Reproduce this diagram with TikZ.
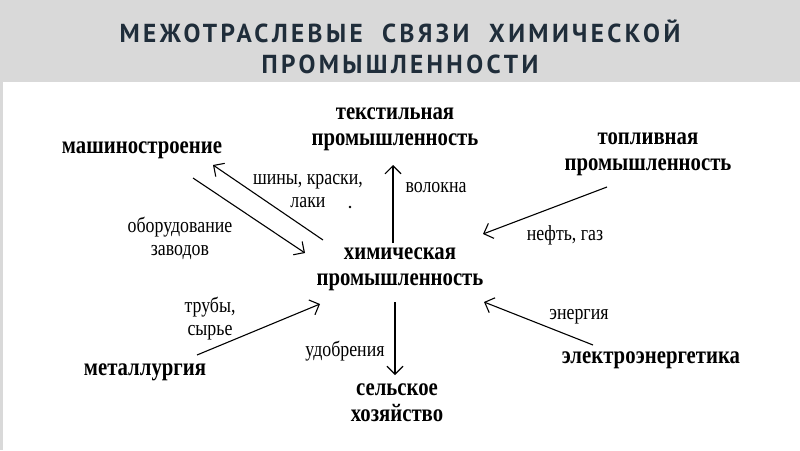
\documentclass[tikz,border=0pt]{standalone}
\usepackage{fontspec}
\setmainfont{Liberation Serif}
\newfontfamily\nodefont[FakeStretch=0.83]{Liberation Serif}
\newfontfamily\titlefont[FakeStretch=0.97,LetterSpace=13]{PT Sans}
\usetikzlibrary{arrows.meta}
\definecolor{band}{HTML}{D9D9D9}
\definecolor{titlecol}{HTML}{1F2D3A}
\begin{document}
\begin{tikzpicture}[x=1pt,y=-1pt,
 box/.style={font=\nodefont\fontsize{25}{26}\selectfont\bfseries, align=center, inner sep=0pt, anchor=base},
 lbl/.style={font=\nodefont\fontsize{21.5}{23}\selectfont, align=center, inner sep=0pt, anchor=base},
 arr/.style={-{Straight Barb[length=8pt,width=16pt]}, line width=1.1pt}]
\fill[band] (0,0) rectangle (800,450);
\fill[white] (3,82) rectangle (800,450);
\useasboundingbox (0,0) rectangle (800,450);
\node[font=\titlefont\fontsize{26}{30.5}\selectfont\bfseries, text=titlecol, align=center, inner sep=0pt, anchor=base] (title) at (400,73) {МЕЖОТРАСЛЕВЫЕ\ \ СВЯЗИ\ \ ХИМИЧЕСКОЙ\\ПРОМЫШЛЕННОСТИ};
% nodes (multi-line: base = last line)
\node[box] (tex) at (395,145) {текстильная\\промышленность};
\node[box] (mash) at (142,153) {машиностроение};
\node[box] (fuel) at (648,170) {топливная\\промышленность};
\node[box] (chem) at (400,285) {химическая\\промышленность};
\node[box] (met) at (145,375) {металлургия};
\node[box] (el) at (651,363) {электроэнергетика};
\node[box] (agr) at (397,421) {сельское\\хозяйство};
% arrow ends
\coordinate (texIn) at (393,165);
\coordinate (chemUp) at (393,243);
\coordinate (mashIn) at (213,165);
\coordinate (chemOutNW) at (323,240);
\coordinate (mashOut) at (193,178);
\coordinate (chemInNW) at (305,253);
\coordinate (fuelOut) at (607,187);
\coordinate (chemInNE) at (483,234);
\coordinate (metOut) at (197,355);
\coordinate (chemInSW) at (320,304);
\coordinate (elOut) at (593,345);
\coordinate (chemInSE) at (484,302);
\coordinate (chemDown) at (395,302);
\coordinate (agrIn) at (395,375);
% arrows
\draw[arr] (chemUp) -- (texIn);
\draw[arr] (chemOutNW) -- (mashIn);
\draw[arr] (mashOut) -- (chemInNW);
\draw[arr] (fuelOut) -- (chemInNE);
\draw[arr] (metOut) -- (chemInSW);
\draw[arr] (elOut) -- (chemInSE);
\draw[arr] (chemDown) -- (agrIn);
% labels
\node[lbl] (l1) at (308,207) {шины, краски,\\лаки};
\node[lbl] (l2) at (180,255) {оборудование\\заводов};
\node[lbl] (l3) at (436,192) {волокна};
\node[lbl] (l4) at (565,240) {нефть, газ};
\node[lbl] (l5) at (210,335) {трубы,\\сырье};
\node[lbl] (l6) at (345,356) {удобрения};
\node[lbl] (l7) at (579,319) {энергия};
\fill (350,207) circle (1.3);
\end{tikzpicture}
\end{document}
